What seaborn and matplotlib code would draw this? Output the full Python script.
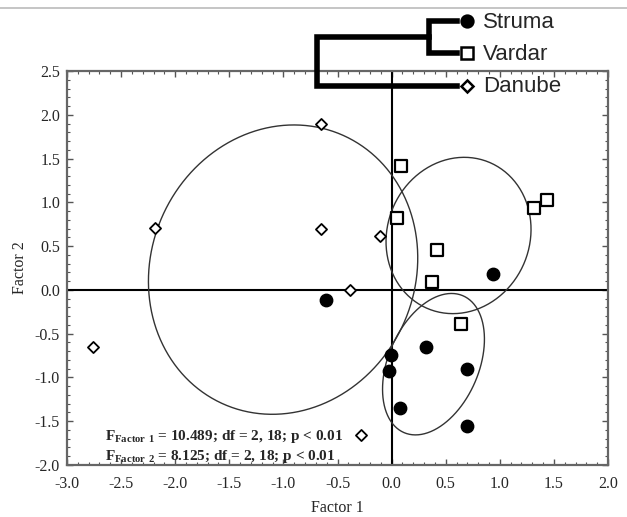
import numpy as np
import pandas as pd
import matplotlib
matplotlib.use('Agg')
import matplotlib.pyplot as plt
import seaborn as sns
from matplotlib.lines import Line2D
from matplotlib.ticker import MultipleLocator

# Factor scores per river basin
struma_x = [-0.61, 0.94, -0.01, -0.02, 0.32, 0.70, 0.08, 0.70]
struma_y = [-0.11, 0.18, -0.74, -0.93, -0.65, -0.90, -1.35, -1.55]
# the point at (-0.61, -0.11) lies outside the Struma ellipse
struma_in_ellipse = [False, True, True, True, True, True, True, True]

vardar_x = [0.09, 0.05, 0.42, 0.37, 1.32, 1.44, 0.64]
vardar_y = [1.42, 0.82, 0.45, 0.09, 0.93, 1.03, -0.39]

danube_x = [-0.65, -2.19, -0.65, -0.11, -0.38, -2.76, -0.28]
danube_y = [1.90, 0.71, 0.70, 0.62, 0.00, -0.65, -1.66]

# dendrogram (order of leaves, linkage distances in arbitrary units)
leaf_names = ['Struma', 'Vardar', 'Danube']
link_dist = [0.28, 1.40]

stat_lines = [
    (r'$\mathbf{F}_{\mathbf{Factor\ 1}}$', ' = 10.489; df = 2, 18; p < 0.01'),
    (r'$\mathbf{F}_{\mathbf{Factor\ 2}}$', ' = 8.125; df = 2, 18; p < 0.01'),
]

sns.set_theme(style='ticks')
plt.rcParams['font.family'] = ['Liberation Serif', 'DejaVu Serif']
plt.rcParams['mathtext.fontset'] = 'custom'
plt.rcParams['mathtext.rm'] = 'Liberation Serif'
plt.rcParams['mathtext.bf'] = 'Liberation Serif:bold'
plt.rcParams['axes.unicode_minus'] = False

df = pd.concat([
    pd.DataFrame({'x': struma_x, 'y': struma_y, 'group': 'Struma'}),
    pd.DataFrame({'x': vardar_x, 'y': vardar_y, 'group': 'Vardar'}),
    pd.DataFrame({'x': danube_x, 'y': danube_y, 'group': 'Danube'}),
], ignore_index=True)

W, H = 627, 517
fig = plt.figure(figsize=(W / 100, H / 100), dpi=100)
ax = fig.add_axes([67 / W, 1 - 465 / H, (608 - 67) / W, (465 - 71) / H])

ax.axhline(0, color='black', lw=1.5, zorder=1)
ax.axvline(0, color='black', lw=1.5, zorder=1)


def ellipse(x, y, kx=1.2, ky=1.45):
    x = np.asarray(x)
    y = np.asarray(y)
    vals, vecs = np.linalg.eigh(np.cov(x, y))
    t = np.linspace(0, 2 * np.pi, 300)
    circ = vecs @ np.diag(np.sqrt(vals)) @ np.vstack([np.cos(t), np.sin(t)])
    return x.mean() + kx * circ[0], y.mean() + ky * circ[1]


mask = np.array(struma_in_ellipse)
for gx, gy in [(np.array(struma_x)[mask], np.array(struma_y)[mask]),
               (vardar_x, vardar_y), (danube_x, danube_y)]:
    ex, ey = ellipse(gx, gy)
    ax.plot(ex, ey, color='#333333', lw=1.0, zorder=2)

styles = {
    'Struma': dict(marker='o', s=80, color='black', edgecolor='black', linewidth=1),
    'Vardar': dict(marker='s', s=80, color='white', edgecolor='black', linewidth=1.6),
    'Danube': dict(marker='D', s=32, color='white', edgecolor='black', linewidth=1.3),
}
for g, kw in styles.items():
    sns.scatterplot(data=df[df['group'] == g], x='x', y='y', ax=ax, legend=False, zorder=3, **kw)

ax.set_xlim(-3.0, 2.0)
ax.set_ylim(-2.0, 2.5)
ax.xaxis.set_major_locator(MultipleLocator(0.5))
ax.yaxis.set_major_locator(MultipleLocator(0.5))
ax.xaxis.set_minor_locator(MultipleLocator(0.1))
ax.yaxis.set_minor_locator(MultipleLocator(0.1))
ax.xaxis.set_major_formatter(matplotlib.ticker.FormatStrFormatter('%.1f'))
ax.yaxis.set_major_formatter(matplotlib.ticker.FormatStrFormatter('%.1f'))
ax.tick_params(which='both', direction='in', top=True, right=True, color='#555555')
ax.tick_params(which='major', length=4, width=1, labelsize=11.5, pad=5)
ax.tick_params(axis='x', which='major', pad=8)
ax.tick_params(which='minor', length=2, width=0.8)
for sp in ax.spines.values():
    sp.set_color('#666666')
    sp.set_linewidth(1.6)
ax.set_xlabel('Factor 1', fontsize=11.5, labelpad=6)
ax.set_ylabel('Factor 2', fontsize=11.5, labelpad=5)

for i, (fpart, rest) in enumerate(stat_lines):
    ax.text(-2.65, -1.68 - i * 0.22, fpart + rest, fontsize=11, fontweight='bold',
            va='center', ha='left', zorder=4)

# thin gray rule at the top of the figure
fig.add_artist(Line2D([0, 1], [1 - 7.5 / H] * 2, color='#bbbbbb', lw=1.2))

# dendrogram overlay in pixel coordinates
axd = fig.add_axes([0, 0, 1, 1], zorder=5)
axd.set_xlim(0, W)
axd.set_ylim(H, 0)
axd.axis('off')
axd.patch.set_alpha(0)

leaf_y = [21, 53, 86]
x_leaf = 457
scale = 100
j1 = x_leaf - link_dist[0] * scale
j2 = x_leaf - link_dist[1] * scale
mid1 = (leaf_y[0] + leaf_y[1]) / 2
dlw = 4
kw = dict(color='black', lw=dlw, solid_capstyle='projecting', solid_joinstyle='miter')
axd.plot([x_leaf, j1, j1, x_leaf], [leaf_y[0], leaf_y[0], leaf_y[1], leaf_y[1]], **kw)
axd.plot([j1, j2, j2, x_leaf], [mid1, mid1, leaf_y[2], leaf_y[2]], **kw)

leaf_marker = {'Struma': ('o', 'black', 8.5), 'Vardar': ('s', 'white', 8), 'Danube': ('D', 'white', 6.5)}
for name, yy in zip(leaf_names, leaf_y):
    m, fc, ms = leaf_marker[name]
    axd.plot(x_leaf + 10, yy, marker=m, ms=ms, mfc=fc, mec='black', mew=1.8, ls='none')
    axd.text(x_leaf + 26, yy + 1, name, fontsize=16, va='center', ha='left',
             family=['Liberation Sans', 'DejaVu Sans'])

plt.savefig('out.png', dpi=100)
